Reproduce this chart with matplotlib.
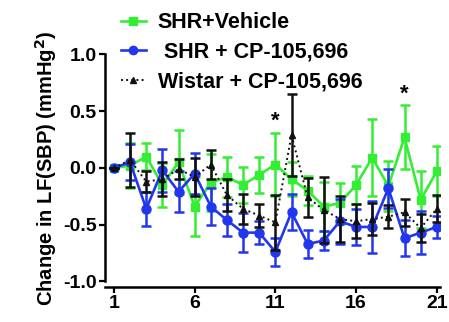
import matplotlib
matplotlib.use("Agg")
import matplotlib.pyplot as plt
from matplotlib.lines import Line2D

# --- DATA ---
days = list(range(1, 22))

veh_mean = [0.0, 0.02, 0.10, -0.15, 0.05, -0.34, -0.13, -0.08, -0.15, -0.06, 0.03,
            -0.10, -0.20, -0.34, -0.31, -0.15, 0.09, -0.16, 0.27, -0.28, -0.03]
veh_sem = [0.0, 0.20, 0.12, 0.19, 0.28, 0.26, 0.25, 0.18, 0.16, 0.16, 0.28,
           0.15, 0.13, 0.22, 0.18, 0.17, 0.34, 0.22, 0.28, 0.25, 0.22]

cp_mean = [0.0, 0.05, -0.36, -0.02, -0.21, -0.05, -0.34, -0.46, -0.57, -0.57, -0.74,
           -0.39, -0.67, -0.64, -0.47, -0.52, -0.52, -0.18, -0.62, -0.57, -0.52]
cp_sem = [0.0, 0.16, 0.15, 0.19, 0.18, 0.18, 0.16, 0.14, 0.17, 0.10, 0.12,
          0.16, 0.12, 0.08, 0.20, 0.16, 0.23, 0.17, 0.16, 0.19, 0.10]

wis_mean = [0.0, 0.07, -0.12, -0.10, -0.01, -0.08, 0.03, -0.24, -0.36, -0.42, -0.48,
            0.29, -0.26, -0.37, -0.45, -0.47, -0.45, -0.43, -0.39, -0.53, -0.36]
wis_sem = [0.0, 0.24, 0.09, 0.15, 0.09, 0.17, 0.13, 0.14, 0.13, 0.10, 0.24,
           0.36, 0.17, 0.29, 0.20, 0.15, 0.14, 0.10, 0.12, 0.12, 0.12]

star_days = [11, 19]
star_y = [0.41, 0.65]

labels = ["SHR+Vehicle", " SHR + CP-105,696", "Wistar + CP-105,696"]
xticks = [1, 6, 11, 16, 21]
yticks = [-1.0, -0.5, 0.0, 0.5, 1.0]

green = "#33ee33"
blue = "#2236ee"
black = "#111111"

plt.rcParams["font.family"] = ["Liberation Sans", "DejaVu Sans"]
plt.rcParams["font.weight"] = "bold"
plt.rcParams["mathtext.default"] = "bf"

fig = plt.figure(figsize=(4.49, 3.22), dpi=100)
ax = fig.add_axes([0.234, 0.126, 0.746, 0.705])

eb = dict(capsize=3.5, elinewidth=1.8, capthick=1.8)
ax.errorbar(days, veh_mean, yerr=veh_sem, color=green, marker="s", ms=6,
            lw=1.9, **eb, zorder=2)
ax.errorbar(days, cp_mean, yerr=cp_sem, color=blue, marker="o", ms=6.5,
            lw=1.9, **eb, zorder=3)
ax.errorbar(days, wis_mean, yerr=wis_sem, color=black, marker="^", ms=4.5,
            lw=1.4, ls=":", **eb, zorder=4)

for d, y in zip(star_days, star_y):
    ax.text(d, y, "*", ha="center", va="center", fontsize=16, fontweight="bold")

ax.set_xlim(0.45, 21.2)
ax.set_ylim(-1.0, 1.0)
ax.set_xticks(xticks)
ax.set_yticks(yticks)
ax.set_yticklabels([f"{v:.1f}" for v in yticks])
ax.tick_params(labelsize=14, width=1.6, length=4, direction="out", pad=2)
for s in ["top", "right"]:
    ax.spines[s].set_visible(False)
for s in ["left", "bottom"]:
    ax.spines[s].set_linewidth(1.8)
ax.spines["bottom"].set_position(("outward", 4))

ax.set_ylabel(r"Change in LF(SBP) (mmHg$^2$)", fontsize=14.5, fontweight="bold",
              labelpad=3)

handles = [
    Line2D([], [], color=green, marker="s", ms=6, lw=1.9),
    Line2D([], [], color=blue, marker="o", ms=6, lw=1.9),
    Line2D([], [], color=black, marker="^", ms=4.5, lw=1.4, ls=":"),
]
fig.legend(handles, labels, loc="upper left", bbox_to_anchor=(0.226, 1.022),
           frameon=False, fontsize=15.5, handlelength=1.16, handletextpad=0.55,
           labelspacing=0.40)

fig.savefig("out.png", dpi=100)
